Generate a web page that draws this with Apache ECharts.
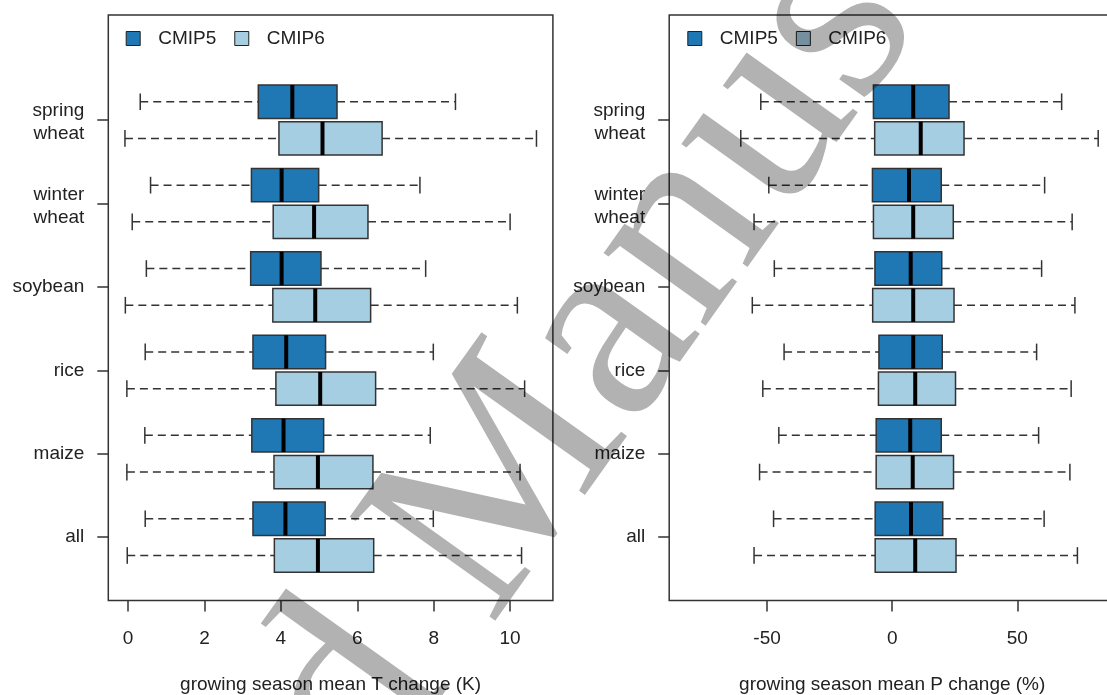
<!DOCTYPE html>
<html>
<head>
<meta charset="utf-8">
<script src="https://cdn.jsdelivr.net/npm/echarts@6/dist/echarts.min.js"></script>
<style>
  html, body { margin: 0; padding: 0; background: #ffffff; }
  #chart { width: 1107px; height: 695px; }
</style>
</head>
<body>
<div id="chart"></div>
<script>
// Crop groups, listed top to bottom
const categories = ['spring wheat', 'winter wheat', 'soybean', 'rice', 'maize', 'all'];
const seriesNames = ['CMIP5', 'CMIP6'];

// Box statistics per crop: [lower whisker, Q1, median, Q3, upper whisker]
// Growing season mean temperature change (K)
const tempCMIP5 = [
  [0.32, 3.41, 4.30, 5.47, 8.57],
  [0.59, 3.23, 4.02, 4.99, 7.64],
  [0.48, 3.21, 4.02, 5.05, 7.79],
  [0.45, 3.27, 4.14, 5.17, 7.99],
  [0.44, 3.24, 4.07, 5.12, 7.91],
  [0.45, 3.27, 4.12, 5.16, 7.99]
];
const tempCMIP6 = [
  [-0.08, 3.95, 5.09, 6.65, 10.69],
  [0.11, 3.80, 4.87, 6.28, 10.00],
  [-0.07, 3.79, 4.90, 6.35, 10.19],
  [-0.03, 3.87, 5.03, 6.48, 10.38],
  [-0.03, 3.82, 4.97, 6.41, 10.26],
  [-0.02, 3.83, 4.97, 6.43, 10.30]
];
// Growing season mean precipitation change (%)
const precCMIP5 = [
  [-52.5, -7.5, 8.4, 22.7, 67.7],
  [-49.3, -7.9, 6.7, 19.6, 60.9],
  [-47.1, -6.9, 7.4, 19.8, 59.7],
  [-43.2, -5.3, 8.4, 20.0, 57.7],
  [-45.3, -6.4, 7.2, 19.6, 58.5],
  [-47.4, -6.8, 7.5, 20.2, 60.7]
];
const precCMIP6 = [
  [-60.5, -7.0, 11.4, 28.7, 82.3],
  [-55.2, -7.5, 8.4, 24.4, 71.9],
  [-55.9, -7.8, 8.4, 24.7, 73.0],
  [-51.7, -5.5, 9.2, 25.3, 71.5],
  [-53.0, -6.4, 8.2, 24.5, 71.0],
  [-55.2, -6.8, 9.2, 25.5, 74.0]
];

// Axis ticks
const tempTicks = [0, 2, 4, 6, 8, 10];
const precTicks = [-50, 0, 50];
const tempTitle = 'growing season mean T change (K)';
const precTitle = 'growing season mean P change (%)';

const colors = { CMIP5: '#1f78b4', CMIP6: '#a6cee3' };
const FONT = "'Liberation Sans', Arial, Helvetica, sans-serif";
const INK = '#222222';

const nCat = categories.length;
const catPositions = categories.map((c, i) => nCat - i);

function toData(stats) {
  return stats.map((s, i) => [nCat - i].concat(s));
}

// R-style horizontal box: dashed whiskers with end staples, outlined box, thick median
function boxRenderer(offset, fill) {
  const half = 0.2, staple = 0.1;
  return function (params, api) {
    const yc = api.value(0) + offset;
    const lo = api.value(1), q1 = api.value(2), med = api.value(3), q3 = api.value(4), hi = api.value(5);
    const pLo = api.coord([lo, yc]);
    const pQ1 = api.coord([q1, yc]);
    const pMed = api.coord([med, yc]);
    const pQ3 = api.coord([q3, yc]);
    const pHi = api.coord([hi, yc]);
    const yTop = api.coord([q1, yc + half])[1];
    const yBot = api.coord([q1, yc - half])[1];
    const sTop = api.coord([lo, yc + staple])[1];
    const sBot = api.coord([lo, yc - staple])[1];
    const whisk = { stroke: '#333333', lineWidth: 1.5, lineDash: [8, 5] };
    const solid = { stroke: '#333333', lineWidth: 1.5 };
    return {
      type: 'group',
      children: [
        { type: 'line', shape: { x1: pLo[0], y1: pLo[1], x2: pQ1[0], y2: pQ1[1] }, style: whisk },
        { type: 'line', shape: { x1: pQ3[0], y1: pQ3[1], x2: pHi[0], y2: pHi[1] }, style: whisk },
        { type: 'line', shape: { x1: pLo[0], y1: sTop, x2: pLo[0], y2: sBot }, style: solid },
        { type: 'line', shape: { x1: pHi[0], y1: sTop, x2: pHi[0], y2: sBot }, style: solid },
        { type: 'rect', shape: { x: pQ1[0], y: yTop, width: pQ3[0] - pQ1[0], height: yBot - yTop },
          style: { fill: fill, stroke: '#333333', lineWidth: 1.5 } },
        { type: 'line', shape: { x1: pMed[0], y1: yTop, x2: pMed[0], y2: yBot },
          style: { stroke: '#000000', lineWidth: 4 } }
      ]
    };
  };
}

function makeSeries(name, stats, offset, axisIndex) {
  return {
    name: name,
    type: 'custom',
    xAxisIndex: axisIndex,
    yAxisIndex: axisIndex,
    itemStyle: { color: colors[name], borderColor: '#222222', borderWidth: 1 },
    encode: { x: [1, 2, 3, 4, 5], y: 0 },
    data: toData(stats),
    renderItem: boxRenderer(offset, colors[name]),
    clip: false
  };
}

// Two-word crop names wrap onto two lines, nudged slightly downward
function labelFor(v) {
  const name = categories[nCat - Math.round(v)] || '';
  const words = name.split(' ');
  if (words.length > 1) {
    return '{gap| }\n{w|' + words[0] + '}\n{w|' + words[1] + '}';
  }
  return '{w|' + name + '}';
}

function xAxisFor(grid, min, max, ticks, title) {
  return {
    type: 'value', gridIndex: grid, min: min, max: max,
    axisLine: { show: false, onZero: false },
    axisTick: { show: true, length: 11, customValues: ticks, lineStyle: { color: '#333333', width: 1.5 } },
    axisLabel: { customValues: ticks, margin: 28.5, fontSize: 19, lineHeight: 19, color: INK, fontFamily: FONT },
    splitLine: { show: false },
    name: title, nameLocation: 'middle', nameGap: 74.5,
    nameTextStyle: { fontSize: 19, color: INK, fontFamily: FONT, lineHeight: 19 }
  };
}

function yAxisFor(grid) {
  return {
    type: 'value', gridIndex: grid, min: 0.24, max: 7.26,
    axisLine: { show: false, onZero: false },
    axisTick: { show: true, length: 11, customValues: catPositions, lineStyle: { color: '#333333', width: 1.5 } },
    axisLabel: {
      customValues: catPositions, margin: 24, color: INK, fontFamily: FONT, fontSize: 19,
      formatter: labelFor, align: 'right',
      rich: {
        w: { fontSize: 19, lineHeight: 23, color: INK, fontFamily: FONT, align: 'right' },
        gap: { fontSize: 2, lineHeight: 5 }
      }
    },
    splitLine: { show: false }
  };
}

function legendAt(left) {
  return {
    left: left, top: 29, orient: 'horizontal', padding: 0,
    data: seriesNames, icon: 'rect', itemWidth: 14, itemHeight: 14, itemGap: 18,
    selectedMode: false,
    itemStyle: { borderColor: '#222222', borderWidth: 1 },
    textStyle: { fontSize: 19, color: INK, fontFamily: FONT, padding: [0, 0, 0, 13], lineHeight: 19 }
  };
}

// Diagonal watermark across the page
const markFont = "273px 'Liberation Serif', 'DejaVu Serif', serif";
const markAngle = 54.5 * Math.PI / 180;
const watermark = [
  { type: 'text', x: 392.6, y: 641.5, rotation: markAngle, z: 100, silent: true,
    style: { text: 'Accepted', font: markFont, fill: 'rgba(0,0,0,0.3)',
      align: 'right', verticalAlign: 'middle', textAlign: 'right', textVerticalAlign: 'middle' } },
  { type: 'text', x: 432.3, y: 585.4, rotation: markAngle, z: 100, silent: true,
    style: { text: 'Manuscript', font: markFont, fill: 'rgba(0,0,0,0.3)',
      align: 'left', verticalAlign: 'middle', textAlign: 'left', textVerticalAlign: 'middle' } }
];

const chart = echarts.init(document.getElementById('chart'), null, { renderer: 'canvas' });
chart.setOption({
  animation: false,
  backgroundColor: '#ffffff',
  textStyle: { fontFamily: FONT },
  grid: [
    { left: 108.3, top: 15, width: 444.6, height: 585.5, show: true, borderColor: '#333333', borderWidth: 1.5,
      containLabel: false, outerBoundsMode: 'none' },
    { left: 669.2, top: 15, width: 446, height: 585.5, show: true, borderColor: '#333333', borderWidth: 1.5,
      containLabel: false, outerBoundsMode: 'none' }
  ],
  legend: [legendAt(125.7), legendAt(687.3)],
  xAxis: [
    xAxisFor(0, -0.516, 11.12, tempTicks, tempTitle),
    xAxisFor(1, -89.1, 89.1, precTicks, precTitle)
  ],
  yAxis: [yAxisFor(0), yAxisFor(1)],
  series: [
    makeSeries('CMIP5', tempCMIP5, 0.22, 0),
    makeSeries('CMIP6', tempCMIP6, -0.22, 0),
    makeSeries('CMIP5', precCMIP5, 0.22, 1),
    makeSeries('CMIP6', precCMIP6, -0.22, 1)
  ],
  graphic: watermark
});
</script>
</body>
</html>
